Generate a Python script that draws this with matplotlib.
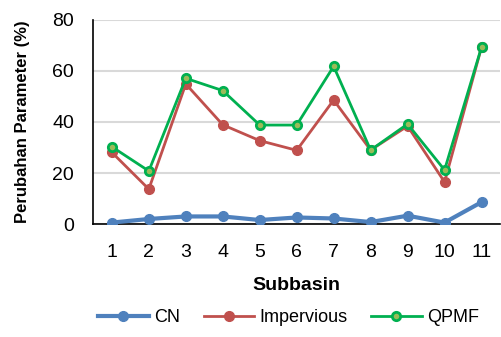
import matplotlib
matplotlib.use("Agg")
import matplotlib.pyplot as plt
from matplotlib import font_manager

# pick a narrow font if we have one
names = {f.name for f in font_manager.fontManager.ttflist}
fam = 'Liberation Sans Narrow' if 'Liberation Sans Narrow' in names else 'Liberation Sans'
plt.rcParams['font.family'] = [fam, 'DejaVu Sans']

subbasin = ['1', '2', '3', '4', '5', '6', '7', '8', '9', '10', '11']
cn = [0.6, 2.0, 3.0, 3.0, 1.6, 2.6, 2.2, 0.8, 3.3, 0.6, 8.6]
impervious = [28.1, 13.7, 54.9, 38.9, 32.7, 28.9, 48.6, 29.0, 38.4, 16.5, 69.3]
qpmf = [30.3, 20.8, 57.1, 52.3, 38.8, 38.8, 61.8, 29.0, 39.2, 21.2, 69.3]

fig = plt.figure(figsize=(5.02, 3.37), dpi=100)
ax = fig.add_axes([0.186, 0.335, 0.81, 0.606])

x = range(len(subbasin))
ax.plot(x, cn, color='#4F81BD', lw=3, marker='o', ms=7, label='CN', zorder=3)
ax.plot(x, impervious, color='#C0504D', lw=2, marker='o', ms=7, label='Impervious', zorder=3)
ax.plot(x, qpmf, color='#00B050', lw=2, marker='o', ms=6, mfc='#9BBB59',
        mec='#00B050', mew=2, label='QPMF', zorder=4)

ax.set_xlim(-0.5, len(subbasin) - 0.5)
ax.set_ylim(0, 80)
ax.set_yticks([0, 20, 40, 60, 80])
ax.set_xticks(list(x))
ax.set_xticklabels(subbasin)
ax.tick_params(length=0, labelsize=14, colors='#000000')
ax.tick_params(axis='y', pad=14)
ax.tick_params(axis='x', pad=14)
ax.grid(axis='y', color='#D9D9D9', lw=1.5)
ax.set_axisbelow(True)
for s in ['top', 'right']:
    ax.spines[s].set_visible(False)
for s in ['left', 'bottom']:
    ax.spines[s].set_color('black')
    ax.spines[s].set_linewidth(1.2)

ax.set_xlabel('Subbasin', fontsize=14, fontweight='bold', labelpad=12)
ax.set_ylabel('Perubahan Parameter (%)', fontsize=12, fontweight='bold', labelpad=16)

ax.legend(loc='upper center', bbox_to_anchor=(0.48, -0.365), ncol=3, frameon=False,
          fontsize=13, handlelength=2.8, columnspacing=1.3, handletextpad=0.3,
          borderaxespad=0.2)

fig.savefig('out.png', dpi=100)
